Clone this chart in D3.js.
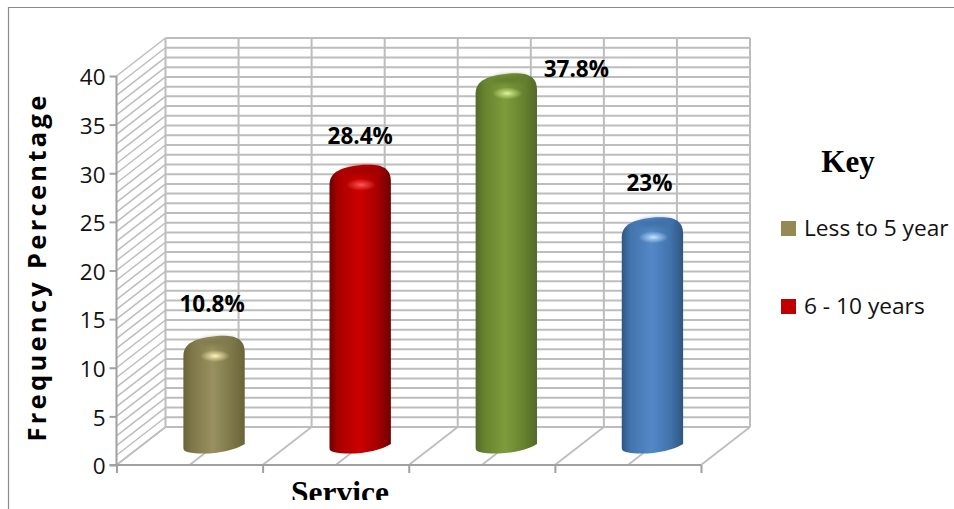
<!DOCTYPE html>
<html><head><meta charset="utf-8">
<style>html,body{margin:0;padding:0;background:#fff;overflow:hidden}svg{display:block}</style>
<script src="https://cdnjs.cloudflare.com/ajax/libs/d3/7.8.5/d3.min.js"></script>
</head><body><svg id="c" width="954" height="509"></svg>
<script>
const categories = ["Less to 5 year", "6 - 10 years", "Group 3", "Group 4"];
const values = [10.8, 28.4, 37.8, 23];
const valueLabels = ["10.8%", "28.4%", "37.8%", "23%"];
const legendItems = ["Less to 5 year", "6 - 10 years"];
const yTicks = [0, 5, 10, 15, 20, 25, 30, 35, 40];
const palette = [
  {mid:"#99915f", edge:"#6a6539", dark:"#7d7749", cap:"#7f7950", hi:"#fff6b8", swatch:"#948a54"},
  {mid:"#cc0000", edge:"#6e0000", dark:"#a80000", cap:"#a00000", hi:"#ff5a5a", swatch:"#c00000"},
  {mid:"#7d9c3c", edge:"#53692a", dark:"#67832f", cap:"#607c2d", hi:"#dcf59a", swatch:"#76923c"},
  {mid:"#5388c8", edge:"#2f5682", dark:"#4274ad", cap:"#3f6fa5", hi:"#c6e6ff", swatch:"#4f81bd"}
];

const depthX = 49, depthY = 38;
const svg = d3.select("#c");
const y = d3.scaleLinear().domain([0, 40]).range([465, 76]);
const x = d3.scaleBand().domain(categories).range([116.5, 701]);
const gridC = "#bdbdbd", axisC = "#a0a0a0";
const units = d3.range(0, 41);
const half = x.bandwidth() / 2;
const frontXs = d3.range(0, 9).map(i => x.range()[0] + i * half);

// frame
svg.append("path").attr("d", "M8.5,509V7.5H954").attr("fill", "none").attr("stroke", "#8a8a8a").attr("stroke-width", 1.2);

// back wall
const back = svg.append("g").attr("fill", "none").attr("stroke", gridC).attr("stroke-width", 2);
back.selectAll(".h").data(units).join("line")
  .attr("x1", x.range()[0] + depthX).attr("x2", x.range()[1] + depthX)
  .attr("y1", d => y(d) - depthY).attr("y2", d => y(d) - depthY);
back.selectAll(".v").data(frontXs).join("line")
  .attr("x1", d => d + depthX).attr("x2", d => d + depthX)
  .attr("y1", y(40) - depthY).attr("y2", y(0) - depthY);
// side wall
const side = svg.append("g").attr("stroke", gridC).attr("stroke-width", 1.5);
side.selectAll("line").data(units).join("line")
  .attr("x1", x.range()[0]).attr("x2", x.range()[0] + depthX)
  .attr("y1", d => y(d)).attr("y2", d => y(d) - depthY);
// floor
const floor = svg.append("g").attr("stroke", gridC).attr("stroke-width", 1.7);
floor.selectAll("line").data(frontXs).join("line")
  .attr("x1", d => d).attr("x2", d => d + depthX)
  .attr("y1", y(0)).attr("y2", y(0) - depthY);

// axes
const yAxis = d3.axisLeft(y).tickValues(yTicks).tickSize(7).tickPadding(4);
const gy = svg.append("g").attr("transform", `translate(${x.range()[0]},0)`).call(yAxis);
const xAxis = d3.axisBottom(d3.scaleLinear().domain([0, 4]).range(x.range())).tickValues([0,1,2,3,4]).tickSize(8).tickFormat("");
const gx = svg.append("g").attr("transform", `translate(0,${y(0)})`).call(xAxis);
[gy, gx].forEach(g => {
  g.selectAll("path,line").attr("stroke", axisC).attr("stroke-width", 2);
  g.select(".domain").attr("d", g === gy ? `M${0},${y(0)}V${y(40)}` : `M${x.range()[0]-7},0H${x.range()[1]}`);
});
gy.selectAll("text").attr("font-family", "'Open Sans'").attr("font-size", 22.5).attr("fill", "#111").attr("dy", "0.39em");

// gradients
const defs = svg.append("defs");
defs.append("filter").attr("id", "soft").attr("x", "-40%").attr("y", "-60%").attr("width", "180%").attr("height", "220%")
  .append("feGaussianBlur").attr("stdDeviation", 2.5);
palette.forEach((p, i) => {
  const g = defs.append("linearGradient").attr("id", "bar" + i);
  [[0, p.edge], [0.14, p.dark], [0.48, p.mid], [0.78, p.dark], [1, p.edge]].forEach(s =>
    g.append("stop").attr("offset", s[0]).attr("stop-color", s[1]));
  const h = defs.append("radialGradient").attr("id", "hi" + i);
  h.append("stop").attr("offset", 0).attr("stop-color", p.hi).attr("stop-opacity", 1);
  h.append("stop").attr("offset", 0.35).attr("stop-color", p.hi).attr("stop-opacity", 0.6);
  h.append("stop").attr("offset", 1).attr("stop-color", p.hi).attr("stop-opacity", 0);
});

// bars
const barW = x.bandwidth() * 0.42;
const cxOf = i => x(categories[i]) + half + depthX / 2;
const topOf = v => y(v) - depthY / 2 - 5;
function barPath(v, i) {
  const cx = cxOf(i);
  const L = cx - barW / 2, R = cx + barW / 2;
  const base = y(0) - depthY / 2, top = topOf(v);
  const p = d3.path();
  p.moveTo(L, base + 2);
  p.lineTo(L, top + 20);
  p.bezierCurveTo(L, top + 7, L + 12, top + 2, cx + 3, top);
  p.bezierCurveTo(R - 10, top - 1, R, top + 2, R, top + 17);
  p.lineTo(R, base - 2);
  p.bezierCurveTo(R - 12, base + 6, L + 22, base + 10, L + 4, base + 6);
  p.bezierCurveTo(L + 1, base + 5, L, base + 4, L, base + 2);
  p.closePath();
  return p.toString();
}
const bars = svg.append("g").selectAll("g").data(values).join("g");
bars.append("path").attr("d", barPath).attr("fill", (d, i) => `url(#bar${i})`);
bars.append("ellipse").attr("cx", (d, i) => cxOf(i) + 3).attr("cy", d => topOf(d) + 6)
  .attr("rx", 18).attr("ry", 4).attr("fill", (d, i) => palette[i].cap).attr("filter", "url(#soft)")
  .attr("transform", (d, i) => `rotate(-3 ${cxOf(i)} ${topOf(d) + 6})`);
bars.append("ellipse").attr("cx", (d, i) => cxOf(i) + 1).attr("cy", d => topOf(d) + 20)
  .attr("rx", 15).attr("ry", 6).attr("fill", (d, i) => `url(#hi${i})`);

// value labels
const labelOffsets = [[-2, -54], [0, -51], [70, -26], [-3, -56]];
svg.append("g").selectAll("text").data(values).join("text")
  .attr("x", (d, i) => cxOf(i) + labelOffsets[i][0])
  .attr("y", (d, i) => y(d) + labelOffsets[i][1])
  .attr("text-anchor", "middle").attr("dominant-baseline", "middle")
  .attr("font-family", "'Open Sans'").attr("font-weight", 700).attr("font-size", 22.5).attr("fill", "#000")
  .text((d, i) => valueLabels[i]);

// y title
svg.append("text").attr("transform", "translate(46,267) rotate(-90)").attr("text-anchor", "middle")
  .attr("font-family", "'Open Sans'").attr("font-weight", 700).attr("font-size", 25.5).attr("letter-spacing", 3.3).attr("fill", "#000")
  .text("Frequency Percentage");

// x title, cut at its lower edge as in the picture
defs.append("clipPath").attr("id", "xt").append("rect").attr("x", 250).attr("y", 470).attr("width", 200).attr("height", 30);
svg.append("g").attr("clip-path", "url(#xt)").append("text")
  .attr("x", 340).attr("y", 503).attr("text-anchor", "middle")
  .attr("font-family", "'Liberation Serif'").attr("font-weight", 700).attr("font-size", 31.5).attr("fill", "#000").text("Service");

// legend
svg.append("text").attr("x", 848).attr("y", 172).attr("text-anchor", "middle")
  .attr("font-family", "'Liberation Serif'").attr("font-weight", 700).attr("font-size", 31).attr("fill", "#000").text("Key");
const leg = d3.scaleLinear().domain([0, 1]).range([228.5, 306.5]);
const li = svg.append("g").selectAll("g").data(legendItems).join("g").attr("transform", (d, i) => `translate(781,${leg(i)})`);
li.append("rect").attr("y", -7.5).attr("width", 15).attr("height", 15).attr("fill", (d, i) => palette[i].swatch);
li.append("text").attr("x", 23).attr("y", 7.5).attr("font-family", "'Open Sans'").attr("font-size", 22.7).attr("fill", "#111").text(d => d);
</script></body></html>
